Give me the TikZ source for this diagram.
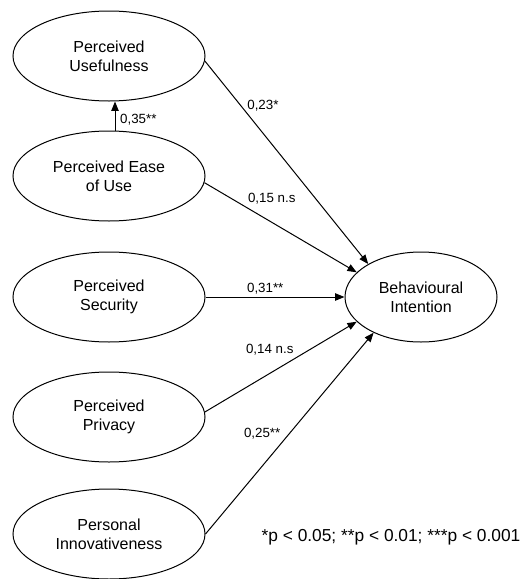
\documentclass[tikz,border=0pt]{standalone}
\usepackage{fontspec}
\setmainfont{Liberation Sans}
\usetikzlibrary{arrows.meta}
\usetikzlibrary{shapes.geometric}
\usetikzlibrary{calc}

\begin{document}
\begin{tikzpicture}[x=0.75pt, y=-0.75pt, >={Triangle[length=7pt,width=5.5pt]},
    konstrukt/.style={ellipse, draw, line width=0.75pt, minimum width=144pt, minimum height=67.5pt,
        inner sep=0pt, align=center, font=\fontsize{12}{14.5}\selectfont},
    svyaz/.style={->, line width=0.75pt},
    koef/.style={font=\fontsize{10}{12}\selectfont, inner sep=1.5pt}]
    % Рамка рисунка
    \useasboundingbox (0,0) rectangle (523,579);

    % Факторы слева
    \node[konstrukt] (PU) at (109,56) {Perceived\\Usefulness};
    \node[konstrukt] (PEOU) at (109,176) {Perceived Ease\\of Use};
    \node[konstrukt] (PS) at (109,297) {Perceived\\Security};
    \node[konstrukt] (PP) at (109,417) {Perceived\\Privacy};
    \node[konstrukt] (PI) at (109,534) {Personal\\Innovativeness};

    % Зависимая переменная
    \node[konstrukt, minimum width=114pt] (BI) at (421,297) {Behavioural\\Intention};

    % Связь PEOU -> PU
    \draw[svyaz] ([xshift=4.5pt]PEOU.north) -- ([xshift=4.5pt]PU.south)
        node[koef, pos=0.36, anchor=west, xshift=2pt] (k35) {0,35**};

    % Связи с намерением
    \draw[svyaz] (PU.-3) -- (BI.148) node[koef, pos=0.22, anchor=west, xshift=3pt] (k23) {0,23*};
    \draw[svyaz] (PEOU.-4) -- (BI.159) node[koef, pos=0.27, anchor=south west] (k15) {0,15 n.s};
    \draw[svyaz] (PS.east) -- (BI.west) node[koef, pos=0.43, anchor=south] (k31) {0,31**};
    \draw[svyaz] (PP.3) -- (BI.201) node[koef, pos=0.6, anchor=south east] (k14) {0,14 n.s};
    \draw[svyaz] (PI.east) -- (BI.217) node[koef, pos=0.46, anchor=south east] (k25) {0,25**};

    % Уровни значимости
    \node[font=\fontsize{13}{15.5}\selectfont, anchor=east, inner sep=1pt] (znach) at (522,537)
        {*p < 0.05; **p < 0.01; ***p < 0.001};
\end{tikzpicture}
\end{document}
